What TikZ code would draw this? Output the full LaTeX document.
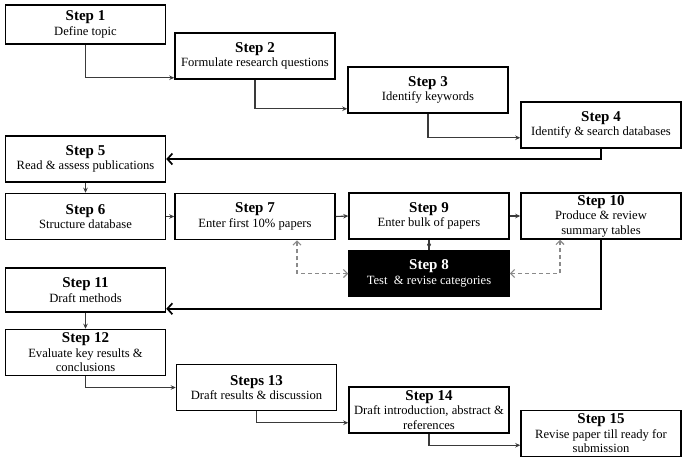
\documentclass[tikz,border=0pt]{standalone}
\usepackage{fontspec}
\setmainfont{Liberation Serif}
\usetikzlibrary{arrows.meta,calc}

\definecolor{linkgray}{HTML}{3A3A3A}
\definecolor{dashgray}{HTML}{8A8A8A}

\newcommand{\stepname}[1]{{\fontsize{15}{15}\selectfont\bfseries #1}\\}

\tikzset{
  stepbox/.style={draw=black, line width=1.5pt, fill=white,
    minimum width=160pt, minimum height=46pt, align=center,
    inner sep=1pt, font=\fontsize{12.6}{14.5}\selectfont},
  keybox/.style={stepbox, fill=black, text=white},
  link/.style={draw=linkgray, line width=1.1pt, -{Stealth[length=5pt,width=4.5pt]}},
  backlink/.style={draw=black, line width=1.7pt, -{Straight Barb[length=5pt,width=11pt,line width=1.7pt]}},
  checklink/.style={draw=dashgray, line width=1.2pt, dash pattern=on 4pt off 3pt,
    {Straight Barb[length=4pt,width=8pt,line width=1.2pt]}-{Straight Barb[length=4pt,width=8pt,line width=1.2pt]}}
}

\begin{document}
\begin{tikzpicture}[x=1pt,y=-1pt]
    \useasboundingbox (0,0) rectangle (685,461);

    % First staircase: topic to databases
    \node[stepbox, minimum height=39pt] (s1) at (85.5, 24.5) {\stepname{Step 1}Define topic};
    \node[stepbox] (s2) at (255, 56) {\stepname{Step 2}Formulate research questions};
    \node[stepbox] (s3) at (428, 90) {\stepname{Step 3}Identify keywords};
    \node[stepbox] (s4) at (601, 125) {\stepname{Step 4}Identify \& search databases};

    % Middle block: reading and the database
    \node[stepbox] (s5) at (85.5, 159) {\stepname{Step 5}Read \& assess publications};
    \node[stepbox] (s6) at (85.5, 216.5) {\stepname{Step 6}Structure database};
    \node[stepbox] (s7) at (255, 216.5) {\stepname{Step 7}Enter first 10\% papers};
    \node[stepbox] (s9) at (429, 216) {\stepname{Step 9}Enter bulk of papers};
    \node[stepbox] (s10) at (601, 216) {\stepname{Step 10}Produce \& review\\summary tables};
    \node[keybox] (s8) at (429, 273.5) {\stepname{Step 8}Test \ \& revise categories};

    % Second staircase: writing up
    \node[stepbox, minimum height=44pt] (s11) at (85.5, 290) {\stepname{Step 11}Draft methods};
    \node[stepbox] (s12) at (85.5, 352.5) {\stepname{Step 12}Evaluate key results \&\\conclusions};
    \node[stepbox] (s13) at (256.5, 387.5) {\stepname{Steps 13}Draft results \& discussion};
    \node[stepbox] (s14) at (429, 410) {\stepname{Step 14}Draft introduction, abstract \&\\references};
    \node[stepbox] (s15) at (601, 433.5) {\stepname{Step 15}Revise paper till ready for\\submission};

    % Staircase connectors
    \draw[link] (s1.south) |- ([yshift=2pt]s2.south west);
    \draw[link] (s2.south) |- ([yshift=5pt]s3.south west);
    \draw[link] (s3.south) |- ([yshift=11pt]s4.south west);
    \draw[link] (s5.south) -- (s6.north);
    \draw[link] (s6.east) -- (s7.west);
    \draw[link] (s7.east) -- (s9.west);
    \draw[link] (s9.east) -- (s10.west);
    \draw[link] (s11.south) -- (s12.north);
    \draw[link] (s12.south) |- (s13.west);
    \draw[link] (s13.south) |- ([yshift=11pt]s14.south west);
    \draw[link] (s14.south) |- ([yshift=12pt]s15.south west);

    % Returns to the left column
    \draw[backlink] (s4.south) |- (s5.east);
    \draw[backlink] (s10.south) |- ([yshift=4pt]s11.south east);

    % Step 8 between steps 7, 9 and 10
    \draw[draw=linkgray, line width=1.1pt] (s9.south) -- (s8.north);
    \fill[linkgray] ($(s9.south)!0.5!(s8.north)$) +(0,-3) -- +(2,0) -- +(0,3) -- +(-2,0) -- cycle;
    \draw[checklink] (s8.west) -| ([xshift=42pt]s7.south);
    \draw[checklink] (s8.east) -| ([xshift=-41pt]s10.south);

\end{tikzpicture}
\end{document}
